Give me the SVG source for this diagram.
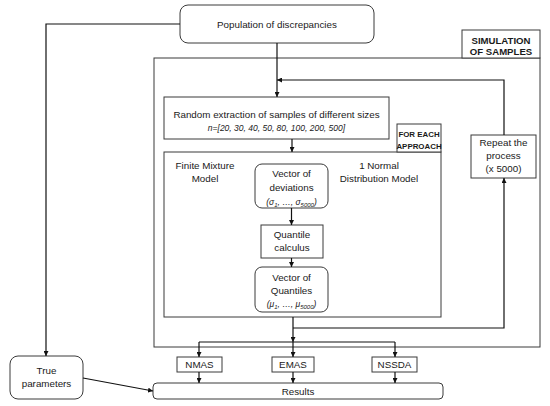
<svg xmlns="http://www.w3.org/2000/svg" width="550" height="406" viewBox="0 0 550 406">
<style>
.box{fill:#fff;stroke:#3a3a3a;stroke-width:1}
.frame{fill:none;stroke:#3a3a3a;stroke-width:1}
.t{font-family:"Liberation Sans",Arial,sans-serif;font-size:9.8px;fill:#1a1a1a;text-anchor:middle}
.it{font-style:italic;font-size:8.5px}
.b{font-weight:bold;font-size:9.6px}
.bs{font-weight:bold;font-size:7.9px}
.c{fill:none;stroke:#111;stroke-width:1.2}
</style>
<defs>
<marker id="ah" viewBox="0 0 10 10" refX="10" refY="5" markerWidth="5" markerHeight="5" orient="auto" markerUnits="userSpaceOnUse">
<path d="M0,0 L10,5 L0,10 z" fill="#111"/>
</marker>
</defs>
<rect width="550" height="406" fill="#fff"/>

<g id="simulation">
<rect class="frame" x="154" y="58" width="386" height="289"/>
<rect class="box" x="462" y="30" width="78" height="28"/>
<text class="t b" x="501" y="43.5">SIMULATION</text>
<text class="t b" x="501" y="55">OF SAMPLES</text>
</g>

<g id="approach">
<rect class="box" x="164" y="152" width="277" height="165"/>
<rect class="box" x="397" y="124" width="44" height="28"/>
<text class="t bs" x="419" y="137">FOR EACH</text>
<text class="t bs" x="419" y="149">APPROACH</text>
<text class="t" x="205" y="168.5">Finite Mixture</text>
<text class="t" x="205" y="181.5">Model</text>
<text class="t" x="379" y="168.5">1 Normal</text>
<text class="t" x="379" y="181.5">Distribution Model</text>
</g>

<g id="population">
<rect class="box" x="180" y="5" width="194" height="38" rx="8"/>
<text class="t" x="277" y="27.5">Population of discrepancies</text>
</g>

<g id="random">
<rect class="box" x="164" y="97" width="225" height="42"/>
<text class="t" x="276.5" y="118">Random extraction of samples of different sizes</text>
<text class="t it" x="276.5" y="131">n=[20, 30, 40, 50, 80, 100, 200, 500]</text>
</g>

<g id="deviations">
<rect class="box" x="255" y="164" width="73" height="44" rx="7"/>
<text class="t" x="291.5" y="177">Vector of</text>
<text class="t" x="291.5" y="191">deviations</text>
<text class="t it" x="291.5" y="205">(σ<tspan font-size="6" dy="1.5">1</tspan><tspan dy="-1.5">, …, σ</tspan><tspan font-size="6" dy="1.5">5000</tspan><tspan dy="-1.5">)</tspan></text>
</g>

<g id="quantile">
<rect class="box" x="261" y="225" width="62" height="33"/>
<text class="t" x="292" y="238">Quantile</text>
<text class="t" x="292" y="251">calculus</text>
</g>

<g id="quantiles">
<rect class="box" x="255" y="267" width="73" height="45" rx="7"/>
<text class="t" x="291.5" y="281">Vector of</text>
<text class="t" x="291.5" y="294">Quantiles</text>
<text class="t it" x="291.5" y="307">(μ<tspan font-size="6" dy="1.5">1</tspan><tspan dy="-1.5">, …, μ</tspan><tspan font-size="6" dy="1.5">5000</tspan><tspan dy="-1.5">)</tspan></text>
</g>

<g id="repeat">
<rect class="box" x="471" y="135" width="65" height="43"/>
<text class="t" x="503.5" y="146">Repeat the</text>
<text class="t" x="503.5" y="159">process</text>
<text class="t" x="503.5" y="172">(x 5000)</text>
</g>

<g id="nmas">
<rect class="box" x="177" y="357" width="45" height="15"/>
<text class="t" x="199.5" y="368">NMAS</text>
</g>
<g id="emas">
<rect class="box" x="272" y="357" width="42" height="15"/>
<text class="t" x="293" y="368">EMAS</text>
</g>
<g id="nssda">
<rect class="box" x="372" y="357" width="45" height="15"/>
<text class="t" x="394.5" y="368">NSSDA</text>
</g>

<g id="true-parameters">
<rect class="box" x="10" y="356" width="73" height="43" rx="8"/>
<text class="t" x="46.5" y="374">True</text>
<text class="t" x="46.5" y="387">parameters</text>
</g>

<g id="results">
<rect class="box" x="153" y="383" width="290" height="16" rx="4"/>
<text class="t" x="298" y="394.5">Results</text>
</g>

<g id="connectors">
<path class="c" d="M180,24 H46 V356" marker-end="url(#ah)"/>
<path class="c" d="M277,43 V97" marker-end="url(#ah)"/>
<path class="c" d="M292,139 V152" marker-end="url(#ah)"/>
<path class="c" d="M291.5,208 V225" marker-end="url(#ah)"/>
<path class="c" d="M291.5,258 V267" marker-end="url(#ah)"/>
<path class="c" d="M293,317 V342" marker-end="url(#ah)"/>
<path class="c" d="M293,328 H504 V178" marker-end="url(#ah)"/>
<path class="c" d="M504,135 V80 H277" marker-end="url(#ah)"/>
<path class="c" d="M199,342 H395"/>
<path class="c" d="M199,342 V357" marker-end="url(#ah)"/>
<path class="c" d="M293,342 V357" marker-end="url(#ah)"/>
<path class="c" d="M395,342 V357" marker-end="url(#ah)"/>
<path class="c" d="M199,372 V383" marker-end="url(#ah)"/>
<path class="c" d="M293,372 V383" marker-end="url(#ah)"/>
<path class="c" d="M395,372 V383" marker-end="url(#ah)"/>
<path class="c" d="M83,378 L153,391" marker-end="url(#ah)"/>
</g>
</svg>
